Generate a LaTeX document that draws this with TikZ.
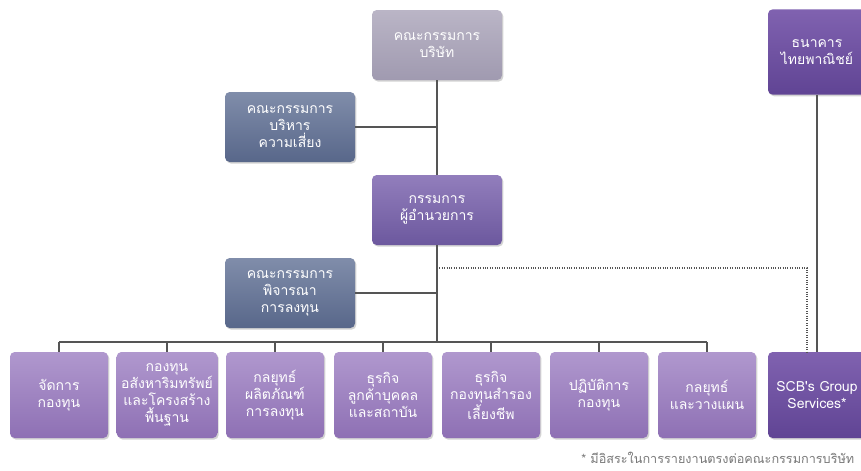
\documentclass[tikz,border=0pt]{standalone}
\usepackage{fontspec}
\newfontfamily\thaifont[Script=Thai]{Loma}
\usetikzlibrary{shadows,positioning}

\definecolor{boardtop}{RGB}{186,181,198}
\definecolor{boardbot}{RGB}{160,154,176}
\definecolor{slatetop}{RGB}{128,141,170}
\definecolor{slatebot}{RGB}{88,103,138}
\definecolor{mdtop}{RGB}{146,126,188}
\definecolor{mdbot}{RGB}{108,88,158}
\definecolor{unittop}{RGB}{176,152,206}
\definecolor{unitbot}{RGB}{142,112,180}
\definecolor{banktop}{RGB}{128,98,176}
\definecolor{bankbot}{RGB}{96,68,148}
\definecolor{linegray}{RGB}{85,85,85}
\definecolor{notegray}{RGB}{120,120,120}

\tikzset{
  box/.style={rounded corners=3.5pt, align=center, text=white,
    font=\thaifont\fontsize{10.5}{12.8}\selectfont,
    drop shadow={opacity=0.35, shadow xshift=1pt, shadow yshift=-1.2pt}},
  bigbox/.style={box, minimum width=97.5pt, minimum height=52.5pt},
  unit/.style={box, minimum width=73.5pt, minimum height=64.5pt,
    top color=unittop, bottom color=unitbot},
  link/.style={draw=linegray, line width=0.8pt}
}

\begin{document}
\begin{tikzpicture}[x=0.75pt,y=-0.75pt]
    \useasboundingbox (0,0) rectangle (861,471);

    \node[bigbox, top color=boardtop, bottom color=boardbot] (board) at (437,45) {คณะกรรมการ\\บริษัท};
    \node[bigbox, top color=slatetop, bottom color=slatebot] (risk) at (290,127) {คณะกรรมการ\\บริหาร\\ความเสี่ยง};
    \node[bigbox, top color=mdtop, bottom color=mdbot] (md) at (437,210) {กรรมการ\\ผู้อำนวยการ};
    \node[bigbox, top color=slatetop, bottom color=slatebot] (invest) at (290,293) {คณะกรรมการ\\พิจารณา\\การลงทุน};

    \node[box, minimum width=73.5pt, minimum height=64pt, top color=banktop, bottom color=bankbot] (bank) at (817,52) {ธนาคาร\\ไทยพาณิชย์};

    \node[unit] (u1) at (59,395) {จัดการ\\กองทุน};
    \node[unit] (u2) at (167,395) {กองทุน\\อสังหาริมทรัพย์\\และโครงสร้าง\\พื้นฐาน};
    \node[unit] (u3) at (275,395) {กลยุทธ์\\ผลิตภัณฑ์\\การลงทุน};
    \node[unit] (u4) at (383,395) {ธุรกิจ\\ลูกค้าบุคคล\\และสถาบัน};
    \node[unit] (u5) at (491,395) {ธุรกิจ\\กองทุนสำรอง\\เลี้ยงชีพ};
    \node[unit] (u6) at (599,395) {ปฏิบัติการ\\กองทุน};
    \node[unit] (u7) at (707,395) {กลยุทธ์\\และวางแผน};
    \node[unit, top color=banktop, bottom color=bankbot] (scb) at (817,395) {SCB's Group\\Services*};

    % bus and trunk
    \coordinate (bus) at (437,342);
    \coordinate (dot) at (437,268);
    \draw[link] (board) -- (md);
    \draw[link] (md) -- (bus);
    \draw[link] (risk.east) -- (risk.east -| md.north);
    \draw[link] (invest.east) -- (invest.east -| md.south);
    \draw[link] (u1.north |- bus) -- (u7.north |- bus);
    \foreach \u in {u1,u2,u3,u4,u5,u6,u7}
        \draw[link] (\u.north) -- (\u.north |- bus);

    \draw[link] (bank) -- (scb);
    \draw[draw=linegray, line width=0.8pt, densely dotted] (dot) -| ([xshift=-7.5pt]scb.north);

    \node[anchor=east, text=notegray, font=\thaifont\fontsize{9.5}{12}\selectfont] (note) at (859,458) {* มีอิสระในการรายงานตรงต่อคณะกรรมการบริษัท};
\end{tikzpicture}
\end{document}
